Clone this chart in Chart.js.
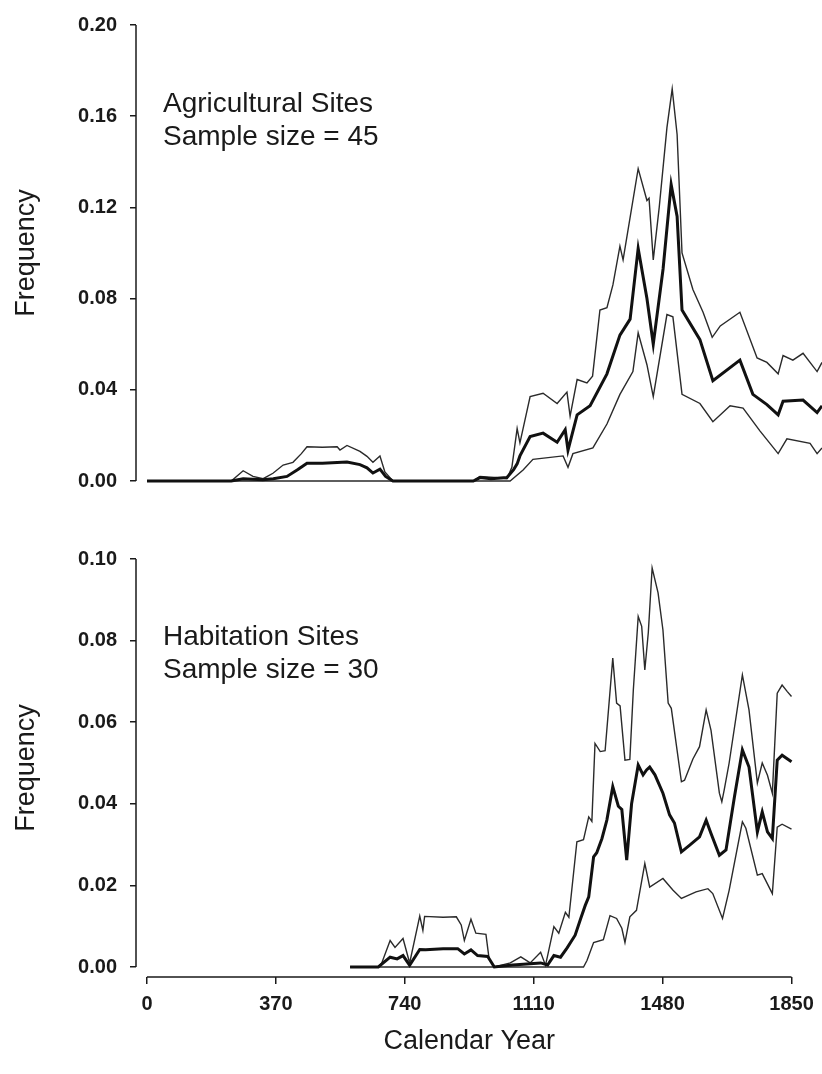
<!DOCTYPE html>
<html><head><meta charset="utf-8">
<script src="https://cdn.jsdelivr.net/npm/chart.js@4/dist/chart.umd.min.js"></script>
<style>
html,body{margin:0;padding:0;background:#fff;}
#wrap{position:relative;width:822px;height:1074px;overflow:hidden;background:#fff;}
#c1{position:absolute;left:0;top:0;width:822px;height:510px;}
#c2{position:absolute;left:0;top:510px;width:822px;height:564px;}
.note{position:absolute;left:163px;font-family:"Liberation Sans",Arial,sans-serif;font-size:28px;line-height:33px;color:#1a1a1a;white-space:nowrap;}
</style></head>
<body><div id="wrap">
<canvas id="c1" width="822" height="510"></canvas>
<canvas id="c2" width="822" height="564"></canvas>
<div class="note" style="top:86px">Agricultural Sites<br>Sample size = 45</div>
<div class="note" style="top:619px">Habitation Sites<br>Sample size = 30</div>
</div>
<script>
// ---------- data ----------
const xTicks = [0, 370, 740, 1110, 1480, 1850];
const agYTicks = [0, 0.04, 0.08, 0.12, 0.16, 0.20];
const habYTicks = [0, 0.02, 0.04, 0.06, 0.08, 0.10];

// Agricultural sites
const agUpperYears = [0,240,274,302,331,359,388,416,440,456,500,542,550,570,607,627,644,664,678,701,930,949,1000,1026,1040,1055,1063,1092,1129,1169,1197,1206,1226,1254,1270,1291,1311,1328,1348,1357,1400,1425,1431,1443,1460,1482,1497,1511,1525,1556,1585,1611,1634,1690,1739,1767,1799,1813,1841,1870,1910,1924];
const agUpper = [0,0,0.0045,0.002,0.001,0.0034,0.007,0.0082,0.012,0.015,0.0148,0.015,0.0136,0.0156,0.013,0.0108,0.0082,0.011,0.004,0,0,0.002,0.0015,0.001,0.006,0.023,0.0167,0.037,0.0385,0.034,0.039,0.0285,0.0445,0.043,0.046,0.075,0.076,0.086,0.103,0.097,0.137,0.123,0.124,0.097,0.120,0.155,0.172,0.152,0.100,0.084,0.074,0.063,0.068,0.074,0.054,0.052,0.047,0.055,0.053,0.056,0.048,0.052];
const agMeanYears = [0,240,274,330,360,399,430,456,500,570,607,627,644,664,680,701,930,949,980,1026,1045,1055,1063,1092,1129,1169,1192,1200,1226,1263,1311,1348,1377,1400,1425,1443,1471,1494,1511,1525,1576,1613,1690,1727,1767,1799,1813,1870,1910,1924];
const agMean = [0,0,0.001,0.0005,0.001,0.002,0.005,0.0078,0.0078,0.0083,0.0072,0.0058,0.0035,0.0052,0.002,0,0,0.0015,0.001,0.0015,0.005,0.0075,0.011,0.0195,0.021,0.017,0.0225,0.0135,0.029,0.033,0.047,0.064,0.071,0.102,0.080,0.060,0.093,0.130,0.116,0.075,0.062,0.044,0.053,0.038,0.0335,0.029,0.035,0.0355,0.030,0.033];
const agLowerYears = [0,1035,1072,1100,1186,1200,1214,1271,1311,1348,1385,1400,1425,1443,1482,1499,1525,1576,1613,1662,1699,1747,1799,1824,1890,1910,1924];
const agLower = [0,0,0.0048,0.0095,0.011,0.006,0.012,0.0145,0.025,0.038,0.048,0.065,0.051,0.037,0.073,0.072,0.038,0.034,0.026,0.033,0.032,0.022,0.012,0.0185,0.0165,0.012,0.0145];

// Habitation sites
const habUpperYears = [583,664,674,698,712,735,754,783,792,797,850,888,902,911,930,944,973,982,997,1043,1073,1100,1130,1144,1168,1182,1201,1211,1234,1253,1268,1277,1286,1301,1315,1337,1348,1358,1372,1386,1396,1410,1420,1429,1439,1450,1467,1481,1496,1505,1534,1543,1567,1586,1605,1619,1643,1650,1657,1671,1709,1728,1752,1766,1781,1795,1809,1823,1838,1850];
const habUpper = [0,0,0.001,0.0065,0.0048,0.007,0.001,0.0125,0.009,0.0124,0.0122,0.0123,0.0103,0.0065,0.0117,0.0083,0.008,0.002,0,0.001,0.0025,0.001,0.0036,0.0004,0.0099,0.0083,0.0134,0.0122,0.0307,0.0312,0.0368,0.0357,0.0548,0.0528,0.053,0.0757,0.0647,0.064,0.0507,0.0509,0.0679,0.0859,0.0835,0.0728,0.082,0.0978,0.0917,0.0826,0.0647,0.0634,0.0454,0.0458,0.051,0.054,0.063,0.058,0.0426,0.0405,0.0435,0.05,0.0716,0.063,0.0451,0.05,0.047,0.0426,0.0671,0.0691,0.0675,0.0663];
const habMeanYears = [583,664,698,718,735,754,783,800,850,892,911,930,949,978,997,1050,1100,1130,1150,1168,1187,1206,1229,1245,1258,1268,1282,1291,1306,1320,1337,1353,1363,1377,1391,1410,1424,1434,1443,1458,1481,1500,1514,1534,1557,1586,1605,1619,1643,1662,1686,1709,1728,1752,1766,1781,1795,1809,1823,1850];
const habMean = [0,0,0.0024,0.002,0.0028,0.0004,0.0043,0.0042,0.0045,0.0045,0.0032,0.0042,0.0028,0.0026,0,0.0005,0.0008,0.001,0.0005,0.0028,0.0024,0.0047,0.0078,0.0119,0.0151,0.0172,0.027,0.028,0.0315,0.036,0.0442,0.0394,0.0386,0.0262,0.040,0.0495,0.0471,0.0483,0.049,0.0471,0.0426,0.0373,0.0353,0.0282,0.0298,0.0319,0.036,0.0327,0.0274,0.0287,0.0416,0.0532,0.049,0.0331,0.038,0.0331,0.0315,0.0507,0.0519,0.0503];
const habLowerYears = [583,1253,1263,1282,1310,1329,1348,1363,1372,1386,1405,1429,1443,1481,1510,1534,1576,1610,1624,1652,1671,1709,1719,1752,1766,1795,1809,1823,1850];
const habLower = [0,0,0.0016,0.006,0.0067,0.0126,0.0119,0.0095,0.006,0.0123,0.0139,0.0254,0.0196,0.0217,0.0188,0.0168,0.0184,0.0192,0.018,0.0119,0.0188,0.0356,0.034,0.0225,0.0229,0.018,0.0343,0.035,0.0338];

// ---------- styling ----------
const ink = '#1a1a1a';
const FONT = "'Liberation Sans', Arial, Helvetica, sans-serif";
Chart.defaults.font.family = FONT;
Chart.defaults.color = ink;

function pts(xs, ys) { return xs.map((x, i) => ({x: x, y: ys[i]})); }
function ds(xs, ys, thick) {
  return {
    data: pts(xs, ys), borderColor: thick ? '#111' : '#2a2a2a',
    borderWidth: thick ? 3 : 1.4, pointRadius: 0, tension: 0,
    clip: false, fill: false, order: thick ? 0 : 1
  };
}
function yScale(ticksArr, min, max) {
  return {
    type: 'linear', min: min, max: max,
    afterFit: s => { s.width = 136; },
    afterBuildTicks: s => { s.ticks = ticksArr.map(v => ({value: v})); },
    ticks: { padding: 13, autoSkip: false, font: {size: 20, weight: 'bold'}, color: ink,
             callback: v => Number(v).toFixed(2) },
    grid: { display: true, drawOnChartArea: false, drawTicks: true, tickLength: 6,
            color: ink, lineWidth: 1.5 },
    border: { display: false },
    title: { display: true, text: 'Frequency', font: {size: 27}, color: ink,
             padding: {top: 10, bottom: 0} }
  };
}

// axis lines drawn along the library's scales
const axisLines = {
  id: 'axisLines',
  afterDraw(chart, args, opts) {
    const {ctx, chartArea, scales} = chart;
    const x = scales.x, y = scales.y;
    ctx.save();
    ctx.strokeStyle = ink; ctx.lineWidth = 1.5;
    ctx.beginPath();
    ctx.moveTo(chartArea.left, y.getPixelForValue(opts.yTop));
    ctx.lineTo(chartArea.left, y.getPixelForValue(0));
    if (opts.xAxis) {
      ctx.moveTo(x.getPixelForValue(xTicks[0]), chartArea.bottom);
      ctx.lineTo(x.getPixelForValue(xTicks[xTicks.length - 1]), chartArea.bottom);
    }
    ctx.stroke();
    ctx.restore();
  }
};

// ---------- top chart ----------
new Chart(document.getElementById('c1'), {
  type: 'line',
  data: { datasets: [ds(agUpperYears, agUpper, false), ds(agLowerYears, agLower, false), ds(agMeanYears, agMean, true)] },
  options: {
    responsive: false, animation: false,
    layout: { padding: {top: 25, bottom: 29, left: 0, right: 0} },
    plugins: { legend: {display: false}, tooltip: {enabled: false}, axisLines: {yTop: 0.20, xAxis: false} },
    scales: {
      x: { type: 'linear', min: -31.4, max: 1924, display: false },
      y: yScale(agYTicks, 0, 0.20)
    }
  },
  plugins: [axisLines]
});

// ---------- bottom chart ----------
new Chart(document.getElementById('c2'), {
  type: 'line',
  data: { datasets: [ds(habUpperYears, habUpper, false), ds(habLowerYears, habLower, false), ds(habMeanYears, habMean, true)] },
  options: {
    responsive: false, animation: false,
    layout: { padding: {top: 49, bottom: 0, left: 0, right: 15} },
    plugins: { legend: {display: false}, tooltip: {enabled: false}, axisLines: {yTop: 0.10, xAxis: true} },
    scales: {
      x: {
        type: 'linear', min: -31.4, max: 1881.3,
        afterFit: s => { s.height = 97; },
        afterBuildTicks: s => { s.ticks = xTicks.map(v => ({value: v})); },
        ticks: { padding: 8, autoSkip: false, maxRotation: 0, font: {size: 20, weight: 'bold'}, color: ink,
                 callback: v => String(v) },
        grid: { display: true, drawOnChartArea: false, drawTicks: true, tickLength: 7,
                color: ink, lineWidth: 1.5 },
        border: { display: false },
        title: { display: true, text: 'Calendar Year', font: {size: 27}, color: ink,
                 padding: {top: 0, bottom: 16} }
      },
      y: yScale(habYTicks, -0.00245, 0.10)
    }
  },
  plugins: [axisLines]
});
</script>
</body></html>
